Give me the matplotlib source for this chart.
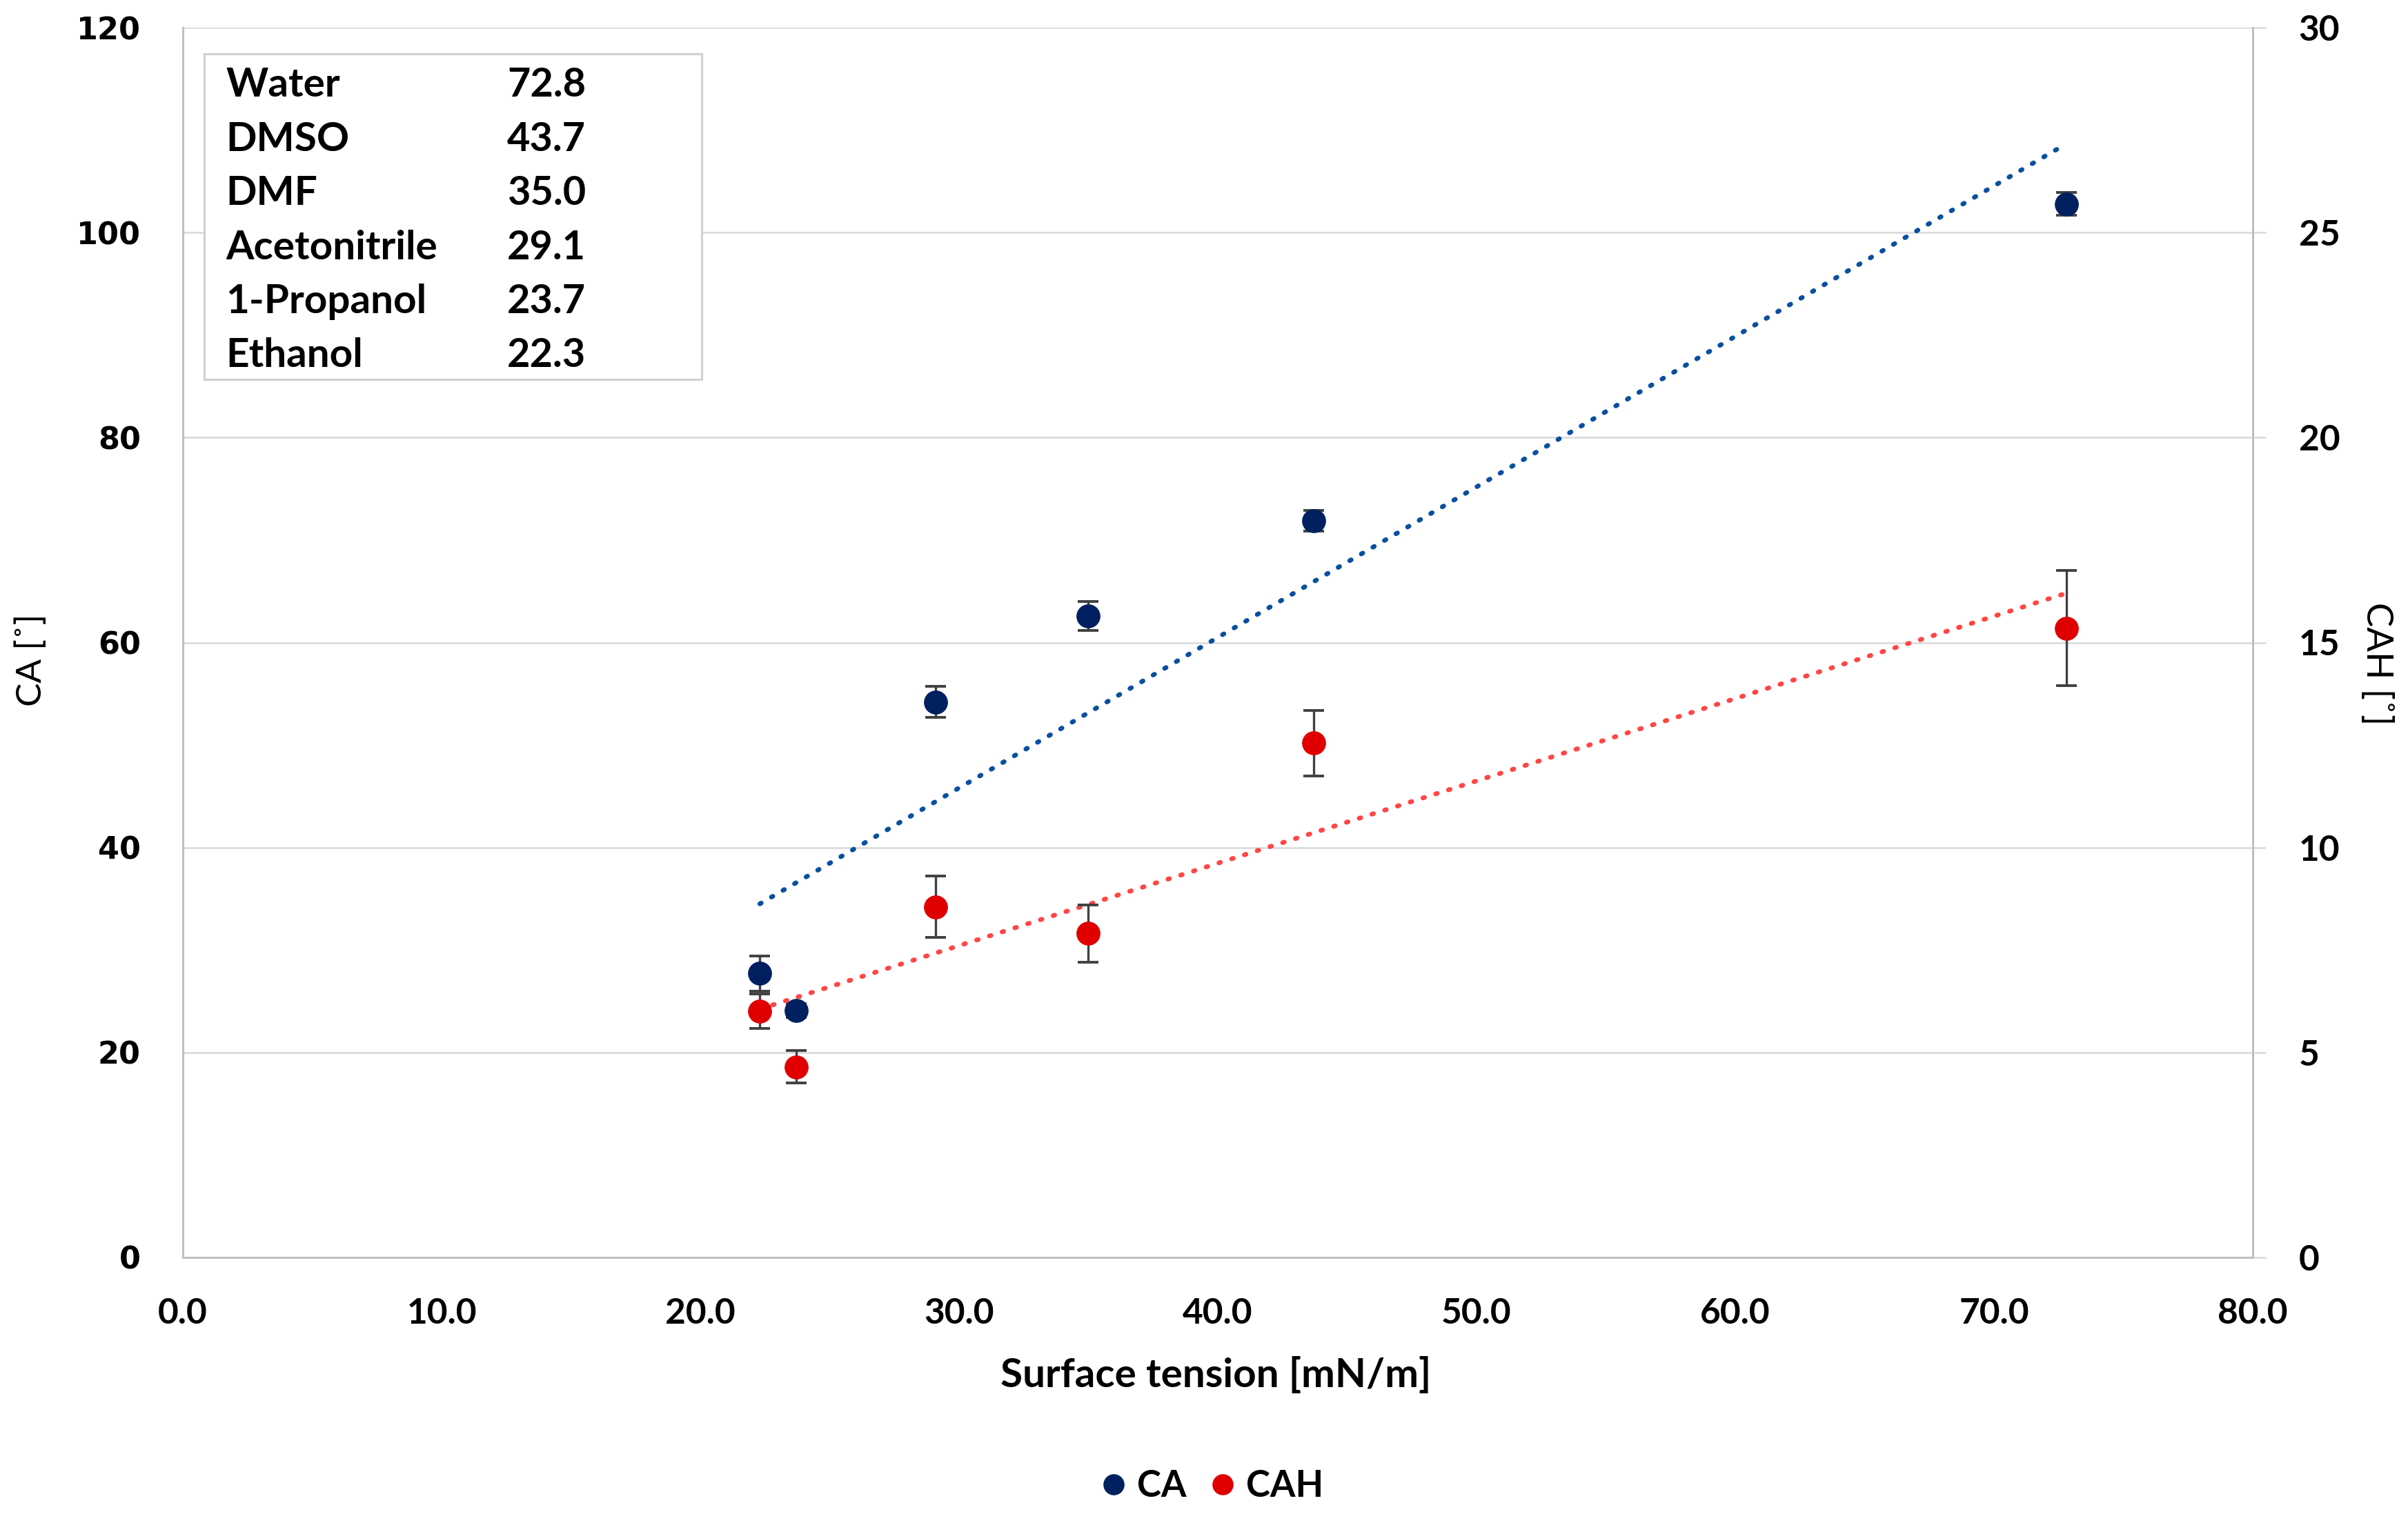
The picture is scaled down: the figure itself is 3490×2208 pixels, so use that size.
import numpy as np
import matplotlib
matplotlib.use("Agg")
import matplotlib.pyplot as plt
from matplotlib.patches import Rectangle
from matplotlib.lines import Line2D

# ---- data ----
solvents = ["Water", "DMSO", "DMF", "Acetonitrile", "1-Propanol", "Ethanol"]
surface_tension = [72.8, 43.7, 35.0, 29.1, 23.7, 22.3]
ca = [102.8, 71.9, 62.6, 54.2, 24.1, 27.7]
ca_err = [1.1, 1.0, 1.4, 1.5, 0.7, 1.7]
cah = [15.35, 12.55, 7.9, 8.55, 4.65, 6.0]
cah_err = [1.4, 0.8, 0.7, 0.75, 0.4, 0.42]

x_ticks = [0, 10, 20, 30, 40, 50, 60, 70, 80]
ca_ticks = [0, 20, 40, 60, 80, 100, 120]
cah_ticks = [0, 5, 10, 15, 20, 25, 30]

FONT = "Lato"
CA_COLOR = "#002060"
CAH_COLOR = "#E00000"
CA_TREND = "#0A4FA0"
CAH_TREND = "#FF4545"
GRID = "#D9D9D9"
SPINE = "#BFBFBF"
ERR = "#404040"

W, H = 3490, 2208
fig = plt.figure(figsize=(W / 100, H / 100), dpi=100)
L, R, T, B = 265, 3265, 40, 1823
ax = fig.add_axes([L / W, 1 - B / H, (R - L) / W, (B - T) / H])
ax2 = ax.twinx()

ax.set_xlim(0, 80)
ax.set_ylim(0, 120)
ax2.set_ylim(0, 30)

# grid
ax.set_yticks(ca_ticks)
ax.yaxis.grid(True, color=GRID, lw=1.8)
ax.set_axisbelow(True)
ax.set_xticks(x_ticks)
ax.set_xticklabels([f"{v:.1f}" for v in x_ticks])
ax2.set_yticks(cah_ticks)

for a in (ax, ax2):
    for s in a.spines.values():
        s.set_visible(False)
ax.spines["left"].set_visible(True)
ax.spines["left"].set_color(SPINE)
ax.spines["left"].set_linewidth(2.2)
ax.spines["bottom"].set_visible(True)
ax.spines["bottom"].set_color(SPINE)
ax.spines["bottom"].set_linewidth(2.0)
ax2.spines["right"].set_visible(True)
ax2.spines["right"].set_color(SPINE)
ax2.spines["right"].set_linewidth(2.2)

TS = 37
ax.tick_params(axis="x", length=0, pad=42, labelsize=TS)
ax.tick_params(axis="y", length=0, pad=44, labelsize=32)
ax2.tick_params(axis="y", length=14, width=1.8, color=GRID, pad=34, labelsize=TS)
for lab in ax.get_xticklabels() + ax2.get_yticklabels():
    lab.set_fontfamily(FONT)
    lab.set_fontweight("bold")
for lab in ax.get_yticklabels():
    lab.set_fontfamily("DejaVu Sans")
    lab.set_fontweight("bold")

# trendlines (least squares fits)
xs = np.array(surface_tension)
xr = np.array([xs.min(), xs.max()])
p1 = np.polyfit(xs, ca, 1)
p2 = np.polyfit(xs, cah, 1)
dot = (0, (0.35, 2.5))
ax.plot(xr, np.polyval(p1, xr), color=CA_TREND, lw=4.9, linestyle=dot,
        dash_capstyle="round", zorder=2)
ax2.plot(xr, np.polyval(p2, xr), color=CAH_TREND, lw=4.9, linestyle=dot,
         dash_capstyle="round", zorder=2)

# data
ax.errorbar(surface_tension, ca, yerr=ca_err, fmt="o", color=CA_COLOR, ms=24,
            ecolor=ERR, elinewidth=2.4, capsize=11, capthick=2.8, zorder=3)
ax2.errorbar(surface_tension, cah, yerr=cah_err, fmt="o", color=CAH_COLOR, ms=24,
             ecolor=ERR, elinewidth=2.4, capsize=11, capthick=2.8, zorder=3)

ax.set_xlabel("Surface tension [mN/m]", fontfamily=FONT, fontweight="bold",
              fontsize=42)
ax.xaxis.label.set_va("center")
ax.xaxis.set_label_coords(0.499, -0.096)
ax.set_ylabel("CA [˚]", fontfamily=FONT, fontsize=37)
ax.yaxis.label.set_va("center")
ax.yaxis.set_label_coords(-0.073, 0.486)
ax2.set_ylabel("CAH [˚]", fontfamily=FONT, fontsize=38, rotation=270)
ax2.yaxis.label.set_va("center")
ax2.yaxis.set_label_coords(1.060, 0.483)

# solvent info box (figure pixel coordinates)
bx0, by0, bx1, by1 = 296, 78, 1017, 550
fig.patches.append(Rectangle((bx0 / W, 1 - by1 / H), (bx1 - bx0) / W, (by1 - by0) / H,
                             transform=fig.transFigure, facecolor="white",
                             edgecolor="#D0D0D0", lw=2.2, zorder=5))
row_y0, row_dy = 124, 78.4
for i, (name, st) in enumerate(zip(solvents, surface_tension)):
    yy = 1 - (row_y0 + i * row_dy) / H
    fig.text(327 / W, yy, name, fontfamily=FONT, fontweight="bold", fontsize=42,
             va="center", ha="left", zorder=6)
    fig.text(735 / W, yy, f"{st:.1f}", fontfamily=FONT, fontweight="bold",
             fontsize=41.5, va="center", ha="left", zorder=6)

# legend
handles = [Line2D([], [], marker="o", ls="", color=CA_COLOR, ms=21),
           Line2D([], [], marker="o", ls="", color=CAH_COLOR, ms=21)]
fig.legend(handles, ["CA", "CAH"], loc="center", bbox_to_anchor=(0.503, 1 - 2155 / H),
           ncol=2, frameon=False, handlelength=0.8, handletextpad=0.25,
           columnspacing=0.6,
           prop={"family": FONT, "weight": "bold", "size": 38})

fig.savefig("out.png", dpi=100, facecolor="white")
